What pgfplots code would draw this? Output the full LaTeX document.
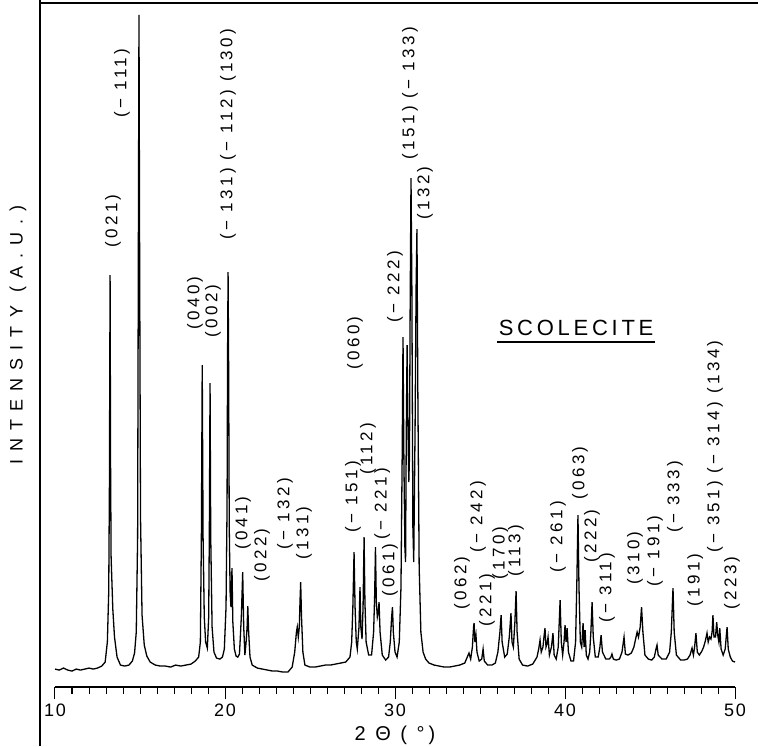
\documentclass[border=0pt]{standalone}
\usepackage{fontspec}
\setmainfont{Liberation Sans}
\newfontfamily\lblfont[LetterSpace=20]{Liberation Sans}
\newfontfamily\ylfont[LetterSpace=45]{Liberation Sans}
\newfontfamily\ttlfont[LetterSpace=17]{Liberation Sans}
\newfontfamily\tickfont[LetterSpace=10]{Liberation Sans}
\usepackage{pgfplots}
\pgfplotsset{compat=1.18}
\begin{document}
\begin{tikzpicture}[hkl/.style={rotate=90, anchor=west, inner sep=0pt, font=\lblfont\fontsize{8.5}{9}\selectfont}]
\begin{axis}[
  scale only axis, width=340pt, height=342pt,
  xmin=10, xmax=50, ymin=0, ymax=684,
  axis x line*=bottom, axis y line=none, ytick=\empty,
  clip=false,
  xtick={10,20,30,40,50}, minor x tick num=9,
  tick align=outside, major tick length=6pt, minor tick length=3.5pt,
  tick style={black, line width=0.5pt},
  axis line style={-, line width=0.6pt},
  /pgf/number format/assume math mode=true,
  xticklabel style={font=\tickfont\fontsize{9}{10}\selectfont, yshift=1pt},
]
\addplot[black, line width=0.65pt] coordinates {
(10.0,18) (10.25,17) (10.5,19) (10.75,17) (11.0,16) (11.25,18) (11.5,17) (11.75,18) (12.0,19) (12.25,18) (12.5,19) (12.75,21) (12.95,25) (13.08,45) (13.16,95) (13.2,200) (13.24,412) (13.27,220) (13.3,130) (13.4,78) (13.5,50) (13.65,30) (13.85,22) (14.1,21) (14.35,22) (14.55,26) (14.68,34) (14.78,55) (14.86,150) (14.9,420) (14.94,672) (14.98,420) (15.03,170) (15.12,72) (15.25,42) (15.4,31) (15.6,25) (15.9,22) (16.2,21) (16.5,21) (16.8,20) (17.1,22) (17.4,21) (17.7,22) (18.0,23) (18.25,26) (18.45,30) (18.55,45) (18.61,150) (18.66,322) (18.71,150) (18.78,70) (18.86,45) (18.96,39) (19.04,70) (19.08,160) (19.12,304) (19.16,150) (19.24,60) (19.35,35) (19.5,29) (19.7,28) (19.85,30) (19.96,38) (20.06,80) (20.12,180) (20.15,330) (20.18,415) (20.21,330) (20.25,160) (20.3,95) (20.35,80) (20.41,119) (20.46,65) (20.55,38) (20.65,31) (20.75,30) (20.85,33) (20.96,70) (21.04,115) (21.1,60) (21.17,32) (21.24,45) (21.3,60) (21.34,81) (21.39,55) (21.47,30) (21.6,22) (21.9,19) (22.2,18) (22.5,17) (22.8,16) (23.1,16) (23.4,15) (23.7,15) (23.95,20) (24.1,35) (24.2,55) (24.25,60) (24.31,50) (24.37,60) (24.41,85) (24.45,105) (24.5,70) (24.58,35) (24.7,22) (25.0,20) (25.3,20) (25.6,21) (25.9,22) (26.2,22) (26.5,23) (26.8,24) (27.1,25) (27.35,30) (27.45,45) (27.52,80) (27.59,135) (27.65,80) (27.72,45) (27.78,38) (27.88,60) (27.94,100) (27.99,60) (28.06,48) (28.12,80) (28.18,150) (28.23,85) (28.3,45) (28.45,32) (28.62,32) (28.74,55) (28.8,90) (28.85,140) (28.9,85) (28.96,70) (29.02,75) (29.06,85) (29.12,55) (29.25,32) (29.45,27) (29.62,30) (29.72,45) (29.8,70) (29.85,80) (29.9,55) (30.0,35) (30.12,30) (30.25,45) (30.35,100) (30.42,230) (30.47,350) (30.52,230) (30.58,140) (30.62,125) (30.66,250) (30.71,342) (30.76,260) (30.81,205) (30.85,230) (30.89,380) (30.94,509) (30.99,400) (31.05,160) (31.1,125) (31.18,260) (31.24,400) (31.29,458) (31.34,300) (31.42,120) (31.52,55) (31.65,35) (31.8,28) (32.0,24) (32.3,22) (32.6,21) (32.9,20) (33.2,20) (33.5,21) (33.8,22) (34.1,24) (34.25,30) (34.35,34) (34.45,28) (34.55,40) (34.62,60) (34.65,64) (34.7,45) (34.76,52) (34.82,35) (34.95,26) (35.1,28) (35.18,38) (35.25,26) (35.45,22) (35.7,22) (35.9,24) (36.05,35) (36.17,55) (36.24,72) (36.3,45) (36.45,30) (36.6,33) (36.72,50) (36.82,74) (36.88,45) (36.96,40) (37.05,65) (37.12,96) (37.18,55) (37.3,28) (37.5,22) (37.8,21) (38.1,23) (38.35,30) (38.45,38) (38.53,47) (38.6,35) (38.7,40) (38.76,50) (38.82,59) (38.88,40) (38.95,44) (39.0,50) (39.08,32) (39.2,40) (39.29,54) (39.36,32) (39.48,28) (39.6,40) (39.71,87) (39.78,45) (39.86,32) (39.94,45) (40.0,62) (40.06,45) (40.12,59) (40.2,35) (40.35,26) (40.5,26) (40.62,45) (40.7,110) (40.76,172) (40.82,100) (40.9,45) (40.98,40) (41.06,64) (41.12,40) (41.18,57) (41.25,32) (41.35,28) (41.45,35) (41.52,55) (41.59,85) (41.66,50) (41.78,30) (41.95,30) (42.05,40) (42.12,52) (42.2,35) (42.4,28) (42.6,28) (42.7,30) (42.76,33) (42.84,28) (43.0,27) (43.2,28) (43.35,35) (43.47,50) (43.55,33) (43.7,32) (43.9,34) (44.05,40) (44.15,48) (44.24,55) (44.32,50) (44.42,60) (44.5,80) (44.58,55) (44.7,32) (44.9,28) (45.1,27) (45.25,30) (45.35,38) (45.41,42) (45.48,32) (45.7,28) (45.95,28) (46.15,35) (46.25,55) (46.35,99) (46.42,55) (46.55,32) (46.8,27) (47.0,27) (47.2,28) (47.35,32) (47.47,39) (47.55,32) (47.62,40) (47.7,54) (47.78,35) (47.9,32) (48.05,36) (48.15,40) (48.25,46) (48.35,54) (48.42,45) (48.5,50) (48.58,48) (48.65,55) (48.7,72) (48.76,50) (48.85,50) (48.92,65) (48.98,52) (49.05,45) (49.1,59) (49.18,38) (49.3,32) (49.42,38) (49.53,60) (49.6,38) (49.72,30) (49.85,26) (50.0,25)
};
% frame lines
\draw[line width=0.6pt] (axis cs:9.118,-59) -- (axis cs:9.118,687);
\draw[line width=0.6pt] (axis cs:9.118,684) -- (axis cs:51.35,684);
% axis titles
\node[rotate=90, font=\ylfont\fontsize{9}{10}\selectfont] at (axis cs:7.82,352) {INTENSITY (A.U.)};
\node[font=\lblfont\fontsize{10}{11}\selectfont] at (axis cs:30,-48) {2 Θ ( °)};
\node[font=\ttlfont\fontsize{11}{12}\selectfont] at (axis cs:40.65,359) {SCOLECITE};
\draw[line width=0.8pt] (axis cs:36.0,345) -- (axis cs:45.29,345);
% reflection labels
\node[hkl] at (axis cs:13.41,439) {(021)};
\node[hkl] at (axis cs:13.94,569) {(− 111)};
\node[hkl] at (axis cs:18.24,357) {(040)};
\node[hkl] at (axis cs:19.29,349) {(002)};
\node[hkl] at (axis cs:20.18,447) {(− 131) (− 112) (130)};
\node[hkl] at (axis cs:21.06,137) {(041)};
\node[hkl] at (axis cs:22.18,105) {(022)};
\node[hkl] at (axis cs:23.53,137) {(− 132)};
\node[hkl] at (axis cs:24.65,127) {(131)};
\node[hkl] at (axis cs:27.65,317) {(060)};
\node[hkl] at (axis cs:27.53,154) {(− 151)};
\node[hkl] at (axis cs:28.41,212) {(112)};
\node[hkl] at (axis cs:29.24,147) {(− 221)};
\node[hkl] at (axis cs:29.71,90) {(061)};
\node[hkl] at (axis cs:30.0,364) {(− 222)};
\node[hkl] at (axis cs:30.88,527) {(151) (− 133)};
\node[hkl] at (axis cs:31.76,467) {(132)};
\node[hkl] at (axis cs:33.94,77) {(062)};
\node[hkl] at (axis cs:34.88,134) {(− 242)};
\node[hkl] at (axis cs:35.41,60) {(221)};
\node[hkl] at (axis cs:36.18,107) {(170)};
\node[hkl] at (axis cs:37.12,110) {(113)};
\node[hkl] at (axis cs:39.59,114) {(− 261)};
\node[hkl] at (axis cs:40.88,187) {(063)};
\node[hkl] at (axis cs:41.59,124) {(222)};
\node[hkl] at (axis cs:42.47,64) {(− 311)};
\node[hkl] at (axis cs:44.12,102) {(310)};
\node[hkl] at (axis cs:45.29,100) {(− 191)};
\node[hkl] at (axis cs:46.47,154) {(− 333)};
\node[hkl] at (axis cs:47.65,80) {(191)};
\node[hkl] at (axis cs:48.82,134) {(− 351) (− 314) (134)};
\node[hkl] at (axis cs:49.82,77) {(223)};
\coordinate (bl) at (axis cs:6.765,-59);
\coordinate (tr) at (axis cs:51.35,687);
\end{axis}
\pgfresetboundingbox
\useasboundingbox (bl) rectangle (tr);
\end{tikzpicture}
\end{document}
